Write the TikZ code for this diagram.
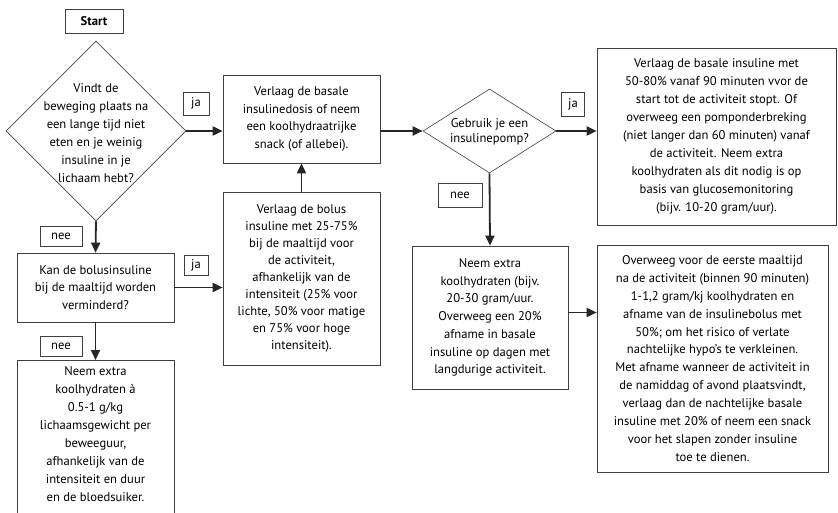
\documentclass[tikz,border=0pt]{standalone}
\usepackage{fontspec}
\setmainfont{PT Sans}
\usetikzlibrary{positioning,arrows.meta,shapes.geometric}

\begin{document}
\begin{tikzpicture}[
  x=1pt, y=-1pt,
  font=\fontsize{12.6}{17.4}\selectfont,
  box/.style={draw=black!75, line width=0.7pt, align=center, inner sep=0pt},
  dia/.style={draw=black!75, line width=0.6pt, shape=diamond, inner sep=0pt},
  txt/.style={align=center, inner sep=0pt},
  tag/.style={draw=black!75, line width=0.6pt, inner sep=0pt},
  arr/.style={-{Triangle[length=10pt, width=9pt]}, line width=1.8pt, black!85}
]
\clip (0,0) rectangle (838,513);
% left column
\node[tag, minimum width=58pt, minimum height=24pt, font=\fontsize{12.6}{17}\selectfont\bfseries] (start) at (94,21) {Start};
\node[dia, minimum width=180pt, minimum height=180pt] (d1) at (96,131) {};
\node[txt, font=\fontsize{12.6}{18}\selectfont] (d1t) at (96,133)
  {Vindt de\\beweging plaats na\\een lange tijd niet\\eten en je weinig\\insuline in je\\lichaam hebt?};
\node[box, minimum width=157pt, minimum height=69pt] (kan) at (95.5,287.5)
  {Kan de bolusinsuline\\bij de maaltijd worden\\verminderd?};
\node[box, anchor=north, minimum width=157pt, minimum height=175pt] (b7) at (95.5,360) {};
\node[txt, anchor=north, font=\fontsize{12.6}{18}\selectfont] (b7t) at ([yshift=-6pt]b7.north)
  {Neem extra\\koolhydraten à\\0.5-1 g/kg\\lichaamsgewicht per\\beweeguur,\\afhankelijk van de\\intensiteit en duur\\en de bloedsuiker.};
% middle column
\node[box, minimum width=157pt, minimum height=88pt] (b2) at (301.5,119)
  {Verlaag de basale\\insulinedosis of neem\\een koolhydraatrijke\\snack (of allebei).};
\node[box, minimum width=157pt, minimum height=173pt, font=\fontsize{12.6}{17}\selectfont] (b3) at (301.5,278.5)
  {Verlaag de bolus\\insuline met 25-75\%\\bij de maaltijd voor\\de activiteit,\\afhankelijk van de\\intensiteit (25\% voor\\lichte, 50\% voor matige\\en 75\% voor hoge\\intensiteit).};
\node[dia, minimum width=133pt, minimum height=84pt] (d2) at (489.5,131) {};
\node[txt, font=\fontsize{12.6}{15}\selectfont] (d2t) at (489.5,132)
  {Gebruik je een\\insulinepomp?};
\node[box, minimum width=156pt, minimum height=143pt, font=\fontsize{12.6}{17.7}\selectfont] (b5) at (490,317.5)
  {Neem extra\\koolhydraten (bijv.\\20-30 gram/uur.\\Overweeg een 20\%\\afname in basale\\insuline op dagen met\\langdurige activiteit.};
% right column
\node[box, minimum width=239pt, minimum height=177pt, font=\fontsize{12.6}{17.9}\selectfont] (b4) at (716.5,136.5)
  {Verlaag de basale insuline met\\50-80\% vanaf 90 minuten vvor de\\start tot de activiteit stopt. Of\\overweeg een pomponderbreking\\(niet langer dan 60 minuten) vanaf\\de activiteit. Neem extra\\koolhydraten als dit nodig is op\\basis van glucosemonitoring\\(bijv. 10-20 gram/uur).};
\node[box, minimum width=231pt, minimum height=227pt, font=\fontsize{12.6}{17.9}\selectfont] (b6) at (712.5,358.5)
  {Overweeg voor de eerste maaltijd\\na de activiteit (binnen 90 minuten)\\1-1,2 gram/kj koolhydraten en\\afname van de insulinebolus met\\50\%; om het risico of verlate\\nachtelijke hypo’s te verkleinen.\\Met afname wanneer de activiteit in\\de namiddag of avond plaatsvindt,\\verlaag dan de nachtelijke basale\\insuline met 20\% of neem een snack\\voor het slapen zonder insuline\\toe te dienen.};
% ja / nee tags
\node[tag, minimum width=26pt, minimum height=23pt] (ja1) at (196,103.5) {ja};
\node[tag, minimum width=42pt, minimum height=20pt] (nee1) at (61,236) {nee};
\node[tag, minimum width=24pt, minimum height=20pt] (ja2) at (196,265) {ja};
\node[tag, minimum width=42pt, minimum height=20pt] (nee2) at (61,346) {nee};
\node[tag, minimum width=23pt, minimum height=24pt] (ja3) at (573,104) {ja};
\node[tag, minimum width=44pt, minimum height=24pt] (nee3) at (460,195) {nee};
% connectors
\draw[arr] (d1.east) -- (d1.east -| b2.west);
\draw[arr] (d1.south) -- (kan.north);
\draw[arr] (kan.east) -- (kan.east -| b3.west);
\draw[arr] (kan.south) -- (b7.north);
\draw[arr] (b3.north) -- (b2.south);
\draw[arr] (d2.west -| b2.east) -- (d2.west);
\draw[arr] (d2.east) -- (d2.east -| b4.west);
\draw[arr] (d2.south) -- (b5.north);
\draw[arr] ([yshift=5pt]b5.east) -- ([yshift=5pt]b5.east -| b6.west);
\end{tikzpicture}
\end{document}
